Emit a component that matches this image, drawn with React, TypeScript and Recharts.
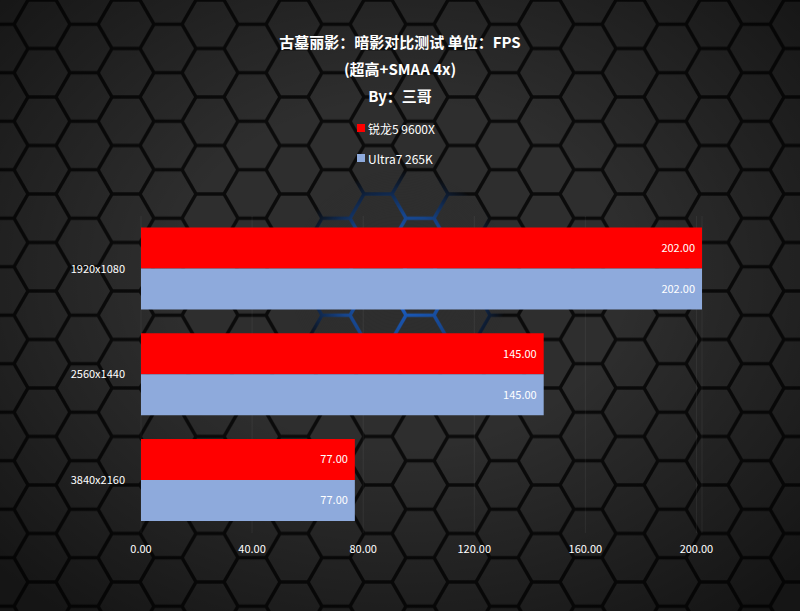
import { Bar, BarChart, CartesianGrid, LabelList, XAxis, YAxis } from "recharts";

const categories = ["1920x1080", "2560x1440", "3840x2160"];
const ryzenFps = [202, 145, 77];
const ultraFps = [202, 145, 77];
const xTicks = [0, 40, 80, 120, 160, 200];

const seriesNames = { ryzen: "锐龙5 9600X", ultra: "Ultra7 265K" };
const colors = { ryzen: "#ff0000", ultra: "#8eaadc" };

const data = categories.map((name, i) => ({ name, ryzen: ryzenFps[i], ultra: ultraFps[i] }));

const FONT = "'Noto Sans CJK SC', 'Noto Sans', sans-serif";

function HexBackground() {
  const r = 28;
  const h = Math.sqrt(3) * r;
  const hex = (cx: number, cy: number) =>
    Array.from({ length: 6 }, (_, k) => {
      const a = (Math.PI / 3) * k;
      return `${cx + (r - 2) * Math.cos(a)},${cy + (r - 2) * Math.sin(a)}`;
    }).join(" ");
  const tile = (id: string, gap: string) => (
    <pattern id={id} width={3 * r} height={h} patternUnits="userSpaceOnUse">
      <rect width={3 * r} height={h} fill={gap} />
      <polygon points={hex(0, 0)} fill="#2e2e2e" />
      <polygon points={hex(0, h)} fill="#2e2e2e" />
      <polygon points={hex(3 * r, 0)} fill="#2e2e2e" />
      <polygon points={hex(3 * r, h)} fill="#2e2e2e" />
      <polygon points={hex(1.5 * r, h / 2)} fill="#2e2e2e" />
    </pattern>
  );
  return (
    <svg width={800} height={611} style={{ position: "absolute", left: 0, top: 0 }}>
      <defs>
        {tile("hex", "#0b0b0b")}
        {tile("hexBlue", "#1e6be0")}
        <radialGradient id="vignette" cx="50%" cy="45%" r="70%">
          <stop offset="40%" stopColor="#000" stopOpacity={0} />
          <stop offset="100%" stopColor="#000" stopOpacity={0.55} />
        </radialGradient>
        <radialGradient id="glowMask" cx="50%" cy="50%" r="50%">
          <stop offset="0%" stopColor="#fff" stopOpacity={1} />
          <stop offset="60%" stopColor="#fff" stopOpacity={0.6} />
          <stop offset="100%" stopColor="#fff" stopOpacity={0} />
        </radialGradient>
        <mask id="glow">
          <ellipse cx={400} cy={280} rx={110} ry={110} fill="url(#glowMask)" />
        </mask>
      </defs>
      <rect width={800} height={611} fill="url(#hex)" />
      <rect width={800} height={611} fill="url(#hexBlue)" mask="url(#glow)" />
      <rect width={800} height={611} fill="url(#vignette)" />
    </svg>
  );
}

function LegendBox() {
  const items = [
    { label: seriesNames.ryzen, color: colors.ryzen },
    { label: seriesNames.ultra, color: colors.ultra },
  ];
  return (
    <div style={{ position: "absolute", top: 113, left: 357, fontFamily: FONT, fontSize: 12, color: "#fff" }}>
      {items.map((it) => (
        <div key={it.label} style={{ display: "flex", alignItems: "center", height: 30 }}>
          <span style={{ width: 8, height: 8, background: it.color, marginRight: 3, display: "inline-block" }} />
          {it.label}
        </div>
      ))}
    </div>
  );
}

export default function App() {
  return (
    <div style={{ position: "absolute", left: 0, top: 0, width: 800, height: 611, overflow: "hidden", background: "#111" }}>
      <HexBackground />
      <div
        style={{
          position: "absolute",
          top: 28,
          left: 0,
          width: 800,
          textAlign: "center",
          color: "#fff",
          fontFamily: FONT,
          fontWeight: 700,
          fontSize: 15,
          lineHeight: "27px",
        }}
      >
        <div>古墓丽影：暗影对比测试 单位：FPS</div>
        <div>(超高+SMAA 4x)</div>
        <div>By：三哥</div>
      </div>
      <LegendBox />
      <div style={{ position: "absolute", left: 0, top: 0 }}>
        <BarChart
          width={800}
          height={611}
          data={data}
          layout="vertical"
          margin={{ top: 216, right: 98, bottom: 48, left: 0 }}
          barCategoryGap="11%"
          barGap={0}
        >
          <CartesianGrid horizontal={false} stroke="rgba(255,255,255,0.06)" />
          <XAxis
            type="number"
            domain={[0, 202]}
            ticks={xTicks}
            tickFormatter={(v: number) => v.toFixed(2)}
            tick={{ fill: "#fff", fontSize: 11, fontFamily: FONT }}
            axisLine={false}
            tickLine={false}
            tickMargin={6}
            height={30}
          />
          <YAxis
            type="category"
            dataKey="name"
            width={141}
            tick={{ fill: "#fff", fontSize: 11, fontFamily: FONT }}
            axisLine={false}
            tickLine={false}
            tickMargin={10}
          />
          <Bar dataKey="ryzen" name={seriesNames.ryzen} fill={colors.ryzen} isAnimationActive={false}>
            <LabelList
              dataKey="ryzen"
              position="insideRight"
              offset={7}
              formatter={(v: number) => v.toFixed(2)}
              style={{ fill: "#fff", fontSize: 11, fontFamily: FONT }}
            />
          </Bar>
          <Bar dataKey="ultra" name={seriesNames.ultra} fill={colors.ultra} isAnimationActive={false}>
            <LabelList
              dataKey="ultra"
              position="insideRight"
              offset={7}
              formatter={(v: number) => v.toFixed(2)}
              style={{ fill: "#fff", fontSize: 11, fontFamily: FONT }}
            />
          </Bar>
        </BarChart>
      </div>
    </div>
  );
}
